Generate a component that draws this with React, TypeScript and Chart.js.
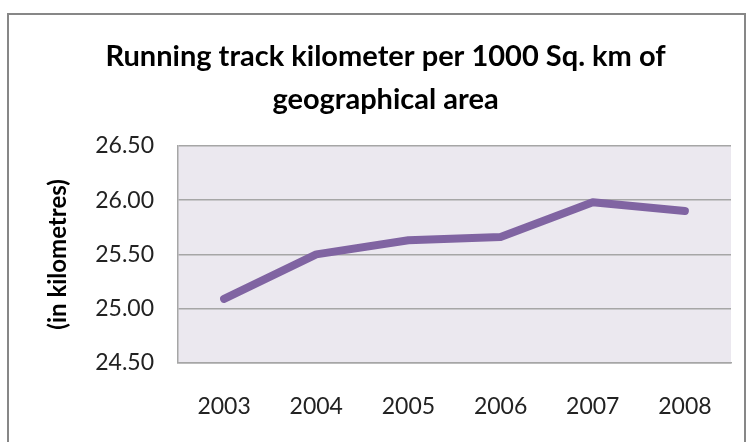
import React, { useEffect, useRef } from "react";
import { Chart, registerables } from "chart.js";

Chart.register(...registerables);

const years = ["2003", "2004", "2005", "2006", "2007", "2008"];
const trackKm = [25.09, 25.5, 25.63, 25.66, 25.98, 25.9];
const titleLines = ["Running track kilometer per 1000 Sq. km of", "geographical area"];
const yAxisTitle = "(in kilometres)";

const FONT = "Lato, 'Open Sans', sans-serif";

const frame = {
  id: "frame",
  beforeDraw(chart: any) {
    const { ctx, chartArea } = chart;
    ctx.save();
    ctx.fillStyle = "#ffffff";
    ctx.fillRect(0, 0, chart.width, chart.height);
    ctx.strokeStyle = "#878787";
    ctx.lineWidth = 2;
    ctx.strokeRect(8, 14, 737, 460);
    ctx.fillStyle = "#ebe8ef";
    ctx.fillRect(chartArea.left, chartArea.top, chartArea.right - chartArea.left, chartArea.bottom - chartArea.top);
    ctx.restore();
  },
};

export default function App() {
  const ref = useRef<HTMLCanvasElement>(null);
  useEffect(() => {
    if (!ref.current) return;
    const chart = new Chart(ref.current, {
      type: "line",
      data: {
        labels: years,
        datasets: [
          {
            data: trackKm,
            borderColor: "#8064a2",
            borderWidth: 8,
            borderCapStyle: "round",
            borderJoinStyle: "round",
            pointRadius: 0,
            tension: 0,
            fill: false,
          },
        ],
      },
      options: {
        responsive: false,
        animation: false,
        layout: { padding: { left: 40, right: 17, top: 0, bottom: 0 } },
        plugins: {
          legend: { display: false },
          tooltip: { enabled: false },
          title: {
            display: true,
            text: titleLines,
            color: "#000000",
            font: { family: FONT, size: 29, weight: "bold", lineHeight: 1.48 },
            padding: { top: 35, bottom: 25 },
          },
        },
        scales: {
          x: {
            offset: true,
            grid: { display: false, drawTicks: false },
            border: { display: true, color: "#a6a6a6", width: 1.5 },
            ticks: { color: "#222222", font: { family: FONT, size: 23 }, padding: 30, maxRotation: 0 },
            afterFit(scale: any) {
              scale.height = 79;
            },
          },
          y: {
            min: 24.5,
            max: 26.5,
            grid: { color: "#a6a6a6", lineWidth: 1.5, drawTicks: false },
            border: { display: true, color: "#a6a6a6", width: 1.5 },
            ticks: {
              stepSize: 0.5,
              color: "#222222",
              font: { family: FONT, size: 23 },
              padding: 24,
              callback: (v: any) => Number(v).toFixed(2),
            },
            title: {
              display: true,
              text: yAxisTitle,
              color: "#000000",
              font: { family: FONT, size: 24, weight: "bold", lineHeight: 1.2 },
              padding: { top: 4, bottom: 0 },
            },
            afterFit(scale: any) {
              scale.width = 178 - 40;
            },
          },
        },
      },
      plugins: [frame],
    });
    return () => chart.destroy();
  }, []);
  return (
    <div style={{ position: "fixed", left: 0, top: 0, width: 748, height: 442 }}>
      <canvas ref={ref} width={748} height={442} style={{ display: "block" }} />
    </div>
  );
}
